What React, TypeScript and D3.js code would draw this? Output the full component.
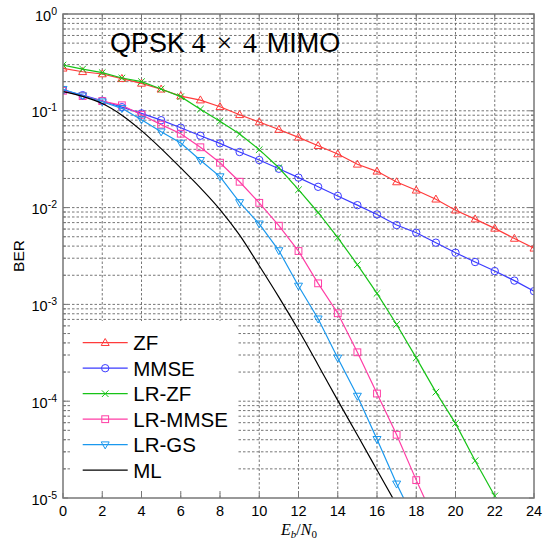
import React from 'react';
import * as d3 from 'd3';

// Eb/N0 in dB
const snr = [0, 1, 2, 3, 4, 5, 6, 7, 8, 9, 10, 11, 12, 13, 14, 15, 16, 17, 18, 19, 20, 21, 22, 23, 24];

const berZF = [0.275, 0.253, 0.24, 0.215, 0.192, 0.167, 0.142, 0.129, 0.11, 0.091, 0.0766, 0.064, 0.0532, 0.0436, 0.0358, 0.028, 0.0237, 0.0184, 0.0151, 0.0122, 0.0094, 0.0076, 0.0061, 0.0048, 0.0038];
const berMMSE = [0.164, 0.145, 0.127, 0.109, 0.094, 0.08, 0.0669, 0.0553, 0.0461, 0.0375, 0.031, 0.0252, 0.0204, 0.0164, 0.0132, 0.0106, 0.0085, 0.0066, 0.0055, 0.00434, 0.00342, 0.00274, 0.00221, 0.00176, 0.00137];
const berLRZF = [0.297, 0.27, 0.248, 0.218, 0.2, 0.168, 0.14, 0.104, 0.078, 0.0576, 0.0397, 0.0258, 0.0153, 0.0089, 0.0049, 0.00257, 0.0013, 6.2e-4, 2.8e-4, 1.24e-4, 5.9e-5, 2.43e-5, 1.05e-5];
const berLRMMSE = [0.161, 0.142, 0.126, 0.114, 0.091, 0.072, 0.058, 0.042, 0.0291, 0.0185, 0.0112, 0.0065, 0.00356, 0.00165, 8.1e-4, 3.2e-4, 1.2e-4, 4.5e-5, 1.53e-5, 5.5e-6];
const berLRGS = [0.167, 0.143, 0.124, 0.106, 0.081, 0.0608, 0.0465, 0.0308, 0.0209, 0.0113, 0.0068, 0.0036, 0.00155, 7.1e-4, 2.8e-4, 1.13e-4, 4.04e-5, 1.4e-5, 5.4e-6];
const berML = [0.158, 0.141, 0.119, 0.0902, 0.0624, 0.0407, 0.0257, 0.016, 0.00955, 0.00519, 0.00251, 0.00119, 5.43e-4, 2.37e-4, 1.02e-4, 4.47e-5, 1.95e-5, 8.5e-6];

const xTicks = [0, 2, 4, 6, 8, 10, 12, 14, 16, 18, 20, 22, 24];
const yExponents = [0, -1, -2, -3, -4, -5];

const series = [
  { name: 'ZF', values: berZF, color: '#ff3b3b', marker: 'tri' },
  { name: 'MMSE', values: berMMSE, color: '#3b3bff', marker: 'circle' },
  { name: 'LR-ZF', values: berLRZF, color: '#17c317', marker: 'x' },
  { name: 'LR-MMSE', values: berLRMMSE, color: '#ff3da5', marker: 'square' },
  { name: 'LR-GS', values: berLRGS, color: '#1a98ee', marker: 'tridown' },
  { name: 'ML', values: berML, color: '#000000', marker: 'none' },
];

const W = 543;
const H = 540;
const plot = { left: 63, right: 534, top: 14, bottom: 498 };

const Marker = ({ type, x, y, color }) => {
  const sw = 1;
  if (type === 'tri')
    return <path d={`M${x},${y - 4.2}L${x + 4},${y + 2.8}L${x - 4},${y + 2.8}Z`} fill="none" stroke={color} strokeWidth={sw} />;
  if (type === 'tridown')
    return <path d={`M${x},${y + 4.2}L${x + 4},${y - 2.8}L${x - 4},${y - 2.8}Z`} fill="none" stroke={color} strokeWidth={sw} />;
  if (type === 'circle') return <circle cx={x} cy={y} r={3.7} fill="none" stroke={color} strokeWidth={sw} />;
  if (type === 'square') return <rect x={x - 3.4} y={y - 3.4} width={6.8} height={6.8} fill="none" stroke={color} strokeWidth={sw} />;
  if (type === 'x')
    return <path d={`M${x - 3.3},${y - 3.3}L${x + 3.3},${y + 3.3}M${x - 3.3},${y + 3.3}L${x + 3.3},${y - 3.3}`} stroke={color} strokeWidth={sw} />;
  return null;
};

export default function App() {
  const x = d3.scaleLinear().domain([0, 24]).range([plot.left, plot.right]);
  const y = d3.scaleLog().domain([1e-5, 1]).range([plot.bottom, plot.top]);

  // minor decade positions 2..9
  const minor = [];
  for (let e = -5; e < 0; e++) for (let m = 2; m <= 9; m++) minor.push(m * Math.pow(10, e));

  const gridStroke = '#666';
  const dash = '2.5,2';

  const legendRows = series.map((s, i) => ({ ...s, cy: 342.7 + i * 25.5 }));

  return (
    <svg width={W} height={H} style={{ position: 'absolute', left: 0, top: 0, background: '#fff' }} fontFamily="'Liberation Sans', Arial, sans-serif">
      <defs>
        <clipPath id="plotclip">
          <rect x={plot.left} y={plot.top} width={plot.right - plot.left} height={plot.bottom - plot.top} />
        </clipPath>
      </defs>
      <rect x={0} y={0} width={W} height={H} fill="#fff" />

      {/* grid */}
      <g stroke={gridStroke} strokeWidth={0.9} strokeDasharray={dash}>
        {xTicks.slice(1, -1).map(t => (
          <line key={'gx' + t} x1={x(t)} x2={x(t)} y1={plot.top} y2={plot.bottom} />
        ))}
        {yExponents.slice(1, -1).map(e => (
          <line key={'gy' + e} x1={plot.left} x2={plot.right} y1={y(Math.pow(10, e))} y2={y(Math.pow(10, e))} />
        ))}
        {minor.map(v => (
          <line key={'gm' + v} x1={plot.left} x2={plot.right} y1={y(v)} y2={y(v)} />
        ))}
      </g>

      {/* ticks */}
      <g stroke="#777" strokeWidth={1}>
        {xTicks.map(t => (
          <g key={'tx' + t}>
            <line x1={x(t)} x2={x(t)} y1={plot.bottom} y2={plot.bottom - 5} />
            <line x1={x(t)} x2={x(t)} y1={plot.top} y2={plot.top + 5} />
          </g>
        ))}
        {yExponents.map(e => (
          <g key={'ty' + e}>
            <line x1={plot.left} x2={plot.left + 5} y1={y(Math.pow(10, e))} y2={y(Math.pow(10, e))} />
            <line x1={plot.right} x2={plot.right - 5} y1={y(Math.pow(10, e))} y2={y(Math.pow(10, e))} />
          </g>
        ))}
        {minor.map(v => (
          <g key={'tm' + v}>
            <line x1={plot.left} x2={plot.left + 3} y1={y(v)} y2={y(v)} />
            <line x1={plot.right} x2={plot.right - 3} y1={y(v)} y2={y(v)} />
          </g>
        ))}
      </g>

      {/* series */}
      <g clipPath="url(#plotclip)">
        {series.map(s => {
          const pts = s.values.map((v, i) => [x(snr[i]), y(v)]);
          const line = d3.line().curve(s.marker === 'none' ? d3.curveMonotoneX : d3.curveLinear);
          return (
            <g key={s.name}>
              <path d={line(pts)} fill="none" stroke={s.color} strokeWidth={1.2} />
              {pts.map((p, i) => (
                <Marker key={i} type={s.marker} x={p[0]} y={p[1]} color={s.color} />
              ))}
            </g>
          );
        })}
      </g>

      {/* legend */}
      <rect x={72} y={321} width={166} height={170} fill="#fff" />
      {legendRows.map(s => (
        <g key={'lg' + s.name}>
          <line x1={82.7} x2={127.7} y1={s.cy} y2={s.cy} stroke={s.color} strokeWidth={1.2} />
          <Marker type={s.marker} x={105.2} y={s.cy} color={s.color} />
          <text x={133.3} y={s.cy} dy="0.36em" fontSize={20.5} fill="#000">{s.name}</text>
        </g>
      ))}

      {/* axes box */}
      <rect x={plot.left} y={plot.top} width={plot.right - plot.left} height={plot.bottom - plot.top} fill="none" stroke="#777" strokeWidth={1.5} />

      {/* tick labels */}
      {xTicks.map(t => (
        <text key={'lx' + t} x={x(t)} y={515.5} fontSize={14.5} textAnchor="middle">{t}</text>
      ))}
      {yExponents.map(e => (
        <text key={'ly' + e} x={57} y={y(Math.pow(10, e)) + 6.5} fontSize={14.5} textAnchor="end">
          10<tspan dy={-6} fontSize={10.5}>{e === 0 ? '0' : '-' + Math.abs(e)}</tspan>
        </text>
      ))}

      {/* axis labels */}
      <text transform="translate(23.5,256) rotate(-90)" fontSize={15.5} textAnchor="middle">BER</text>
      <text x={299} y={535} fontSize={16} textAnchor="middle" fontFamily="'Liberation Serif', 'DejaVu Serif', serif">
        <tspan fontStyle="italic">E</tspan>
        <tspan fontStyle="italic" fontSize={11} dy={3}>b</tspan>
        <tspan dy={-3}>/</tspan>
        <tspan fontStyle="italic">N</tspan>
        <tspan fontSize={11} dy={3}>0</tspan>
      </text>

      {/* title */}
      <text y={52} fontSize={27} fill="#000">
        <tspan x={110}>QPSK</tspan>
        <tspan x={191.7} fontFamily="'Liberation Serif', 'DejaVu Serif', serif" fontSize={28}>4</tspan>
        <tspan x={216.5} fontFamily="'Liberation Serif', 'DejaVu Serif', serif" fontSize={28}>×</tspan>
        <tspan x={243} fontFamily="'Liberation Serif', 'DejaVu Serif', serif" fontSize={28}>4</tspan>
        <tspan x={266.7}>MIMO</tspan>
      </text>
    </svg>
  );
}
